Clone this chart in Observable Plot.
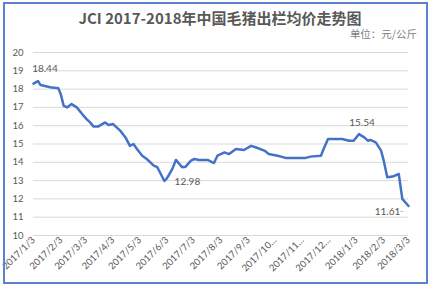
<!DOCTYPE html>
<html>
<head>
<meta charset="utf-8">
<script src="https://cdn.jsdelivr.net/npm/d3@7"></script>
<script src="https://cdn.jsdelivr.net/npm/@observablehq/plot@0.6"></script>
<style>
  body { margin: 0; background: #fff; }
  #wrap { position: relative; width: 434px; height: 288px; overflow: hidden; background: #fff; }
  #frame { position: absolute; left: 3px; top: 2px; width: 421px; height: 278px; border: 2px solid #5a82cf; box-sizing: content-box; pointer-events: none; }
  #title { position: absolute; left: 0; width: 440px; top: 8px; text-align: center; font-family: "Noto Sans CJK SC", sans-serif; font-weight: bold; font-size: 15px; color: #595959; line-height: 20px; }
  #unit { position: absolute; right: 17px; top: 27px; font-family: "Noto Sans CJK SC", sans-serif; font-size: 10.5px; color: #808080; line-height: 14px; }
  #chart { position: absolute; left: 0; top: 0; }
</style>
</head>
<body>
<div id="wrap">
  <div id="chart"></div>
  <div id="title">JCI 2017-2018年中国毛猪出栏均价走势图</div>
  <div id="unit">单位：元/公斤</div>
  <div id="frame"></div>
</div>
<script>
// Weekly-ish price readings (元/公斤)
const dates = [
  "2017-01-03","2017-01-08","2017-01-11","2017-01-22","2017-01-31","2017-02-03","2017-02-06","2017-02-10",
  "2017-02-15","2017-02-21","2017-02-27","2017-03-04","2017-03-08","2017-03-12","2017-03-17","2017-03-25",
  "2017-03-29","2017-04-03","2017-04-11","2017-04-17","2017-04-22","2017-04-26","2017-04-30","2017-05-06",
  "2017-05-11","2017-05-19","2017-05-23","2017-05-31","2017-06-03","2017-06-09","2017-06-13","2017-06-20",
  "2017-06-24","2017-06-30","2017-07-04","2017-07-09","2017-07-19","2017-07-26","2017-07-30","2017-08-07",
  "2017-08-12","2017-08-20","2017-08-29","2017-09-06","2017-09-11","2017-09-21","2017-09-26","2017-10-06",
  "2017-10-15","2017-11-07","2017-11-12","2017-11-24","2017-11-27","2017-12-02","2017-12-18","2017-12-26",
  "2017-12-31","2018-01-06","2018-01-12","2018-01-16","2018-01-19","2018-01-25","2018-01-31","2018-02-03",
  "2018-02-07","2018-02-13","2018-02-20","2018-02-24","2018-03-03"
];
const prices = [
  18.30,18.44,18.22,18.10,18.05,17.70,17.10,17.00,
  17.18,17.00,16.64,16.36,16.18,15.95,15.95,16.18,
  16.04,16.09,15.73,15.36,14.90,15.00,14.73,14.36,
  14.18,13.82,13.73,12.98,13.14,13.64,14.13,13.73,
  13.76,14.09,14.18,14.13,14.13,13.96,14.36,14.54,
  14.45,14.73,14.67,14.90,14.82,14.64,14.45,14.36,
  14.24,14.24,14.31,14.36,14.73,15.27,15.27,15.18,
  15.18,15.54,15.36,15.18,15.22,15.09,14.64,14.09,
  13.18,13.22,13.36,12.00,11.61
];
const tickDates = [
  "2017-01-03","2017-02-03","2017-03-03","2017-04-03","2017-05-03","2017-06-03","2017-07-03","2017-08-03",
  "2017-09-03","2017-10-03","2017-11-03","2017-12-03","2018-01-03","2018-02-03","2018-03-03"
];
const tickLabels = [
  "2017/1/3","2017/2/3","2017/3/3","2017/4/3","2017/5/3","2017/6/3","2017/7/3","2017/8/3",
  "2017/9/3","2017/10…","2017/11…","2017/12…","2018/1/3","2018/2/3","2018/3/3"
];
const yTicks = [10,11,12,13,14,15,16,17,18,19,20];
const labelDates = ["2017-01-08","2017-05-31","2018-01-06","2018-03-03"];
const labelValues = [18.44, 12.98, 15.54, 11.61];

const data = dates.map((d, i) => ({date: new Date(d), price: prices[i]}));
const ticks = tickDates.map(d => new Date(d));
const labelMap = new Map(ticks.map((d, i) => [+d, tickLabels[i]]));
const ann = labelDates.map((d, i) => ({date: new Date(d), price: labelValues[i], text: labelValues[i].toFixed(2)}));

const font = "Lato, 'Noto Sans CJK SC', sans-serif";
const textStyle = {fontSize: 10, fill: "#595959", fontFamily: font};

const chart = Plot.plot({
  width: 434,
  height: 288,
  marginLeft: 33,
  marginRight: 26,
  marginTop: 52,
  marginBottom: 53,
  style: {fontFamily: font, fontSize: "9.5px", color: "#595959", background: "transparent"},
  x: {type: "utc", domain: [ticks[0], ticks[ticks.length - 1]], label: null},
  y: {domain: [10, 20], label: null},
  marks: [
    Plot.gridY(yTicks, {stroke: "#d9d9d9", strokeOpacity: 1, strokeWidth: 1}),
    Plot.axisY(yTicks, {tickSize: 0, tickPadding: 10, label: null, fontSize: 9.5}),
    Plot.axisX(ticks, {tickSize: 0, tickPadding: 3, tickRotate: -45, label: null, fontSize: 9.5,
      tickFormat: d => labelMap.get(+d)}),
    Plot.line(data, {x: "date", y: "price", stroke: "#4472c4", strokeWidth: 2.5, curve: "linear", strokeLinejoin: "round"}),
    Plot.text(ann.slice(0, 1), {x: "date", y: "price", text: "text", dx: 7, dy: -12, ...textStyle}),
    Plot.text(ann.slice(1, 2), {x: "date", y: "price", text: "text", dx: 23, dy: 1, ...textStyle}),
    Plot.text(ann.slice(2, 3), {x: "date", y: "price", text: "text", dx: 3, dy: -11, ...textStyle}),
    Plot.text(ann.slice(3, 4), {x: "date", y: "price", text: "text", dx: -21, dy: 6, ...textStyle}),
    Plot.text(ann.slice(3, 4), {x: "date", y: "price", text: () => "-", dx: -7, dy: 5, ...textStyle, fill: "#a6a6a6"})
  ]
});
document.getElementById("chart").appendChild(chart);
</script>
</body>
</html>
